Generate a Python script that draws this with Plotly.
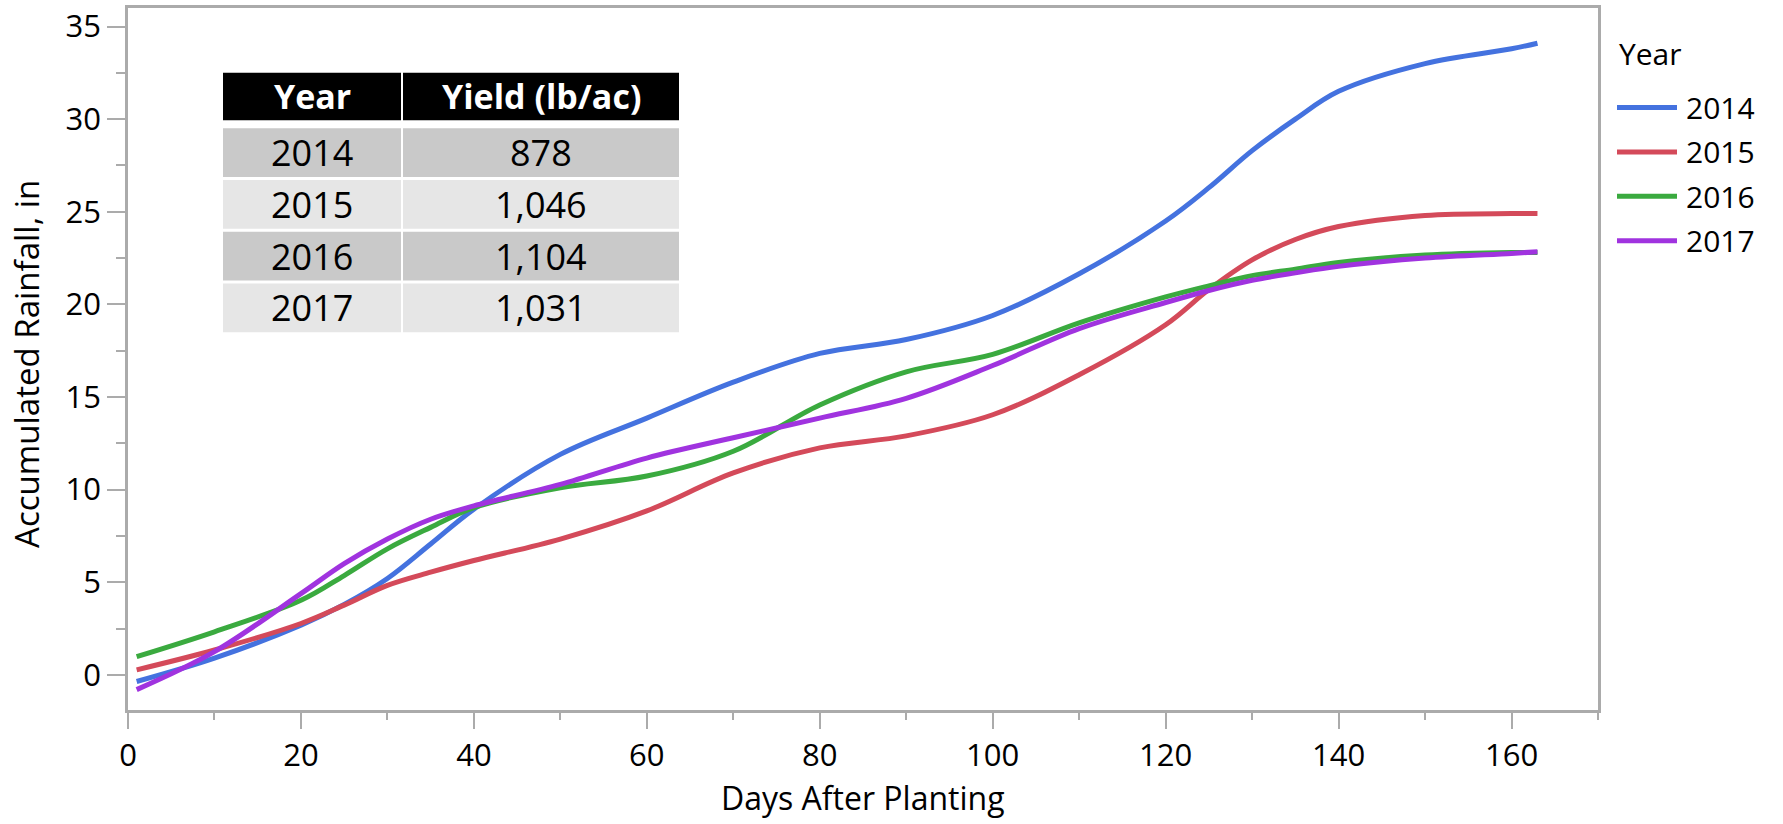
import plotly.graph_objects as go

# ---- data ----
days = [1, 10, 20, 25, 30, 35, 40, 50, 60, 70, 80, 90, 100, 110, 120, 125, 130, 135, 140, 150, 160, 163]
rain_2014 = [-0.36, 0.9, 2.68, 3.8, 5.2, 7.06, 8.94, 11.9, 13.86, 15.8, 17.35, 18.1, 19.4, 21.65,
             24.5, 26.3, 28.3, 30.0, 31.5, 33.0, 33.8, 34.1]
rain_2015 = [0.27, 1.34, 2.77, 3.76, 4.83, 5.54, 6.17, 7.33, 8.85, 10.9, 12.25, 12.9, 14.04, 16.2,
             18.9, 20.8, 22.4, 23.5, 24.2, 24.8, 24.9, 24.9]
rain_2016 = [0.98, 2.32, 4.02, 5.36, 6.8, 7.96, 9.03, 10.1, 10.73, 12.07, 14.57, 16.36, 17.3, 19.0,
             20.4, 21.0, 21.55, 21.9, 22.26, 22.66, 22.8, 22.8]
rain_2017 = [-0.8, 1.25, 4.38, 6.0, 7.33, 8.4, 9.12, 10.28, 11.7, 12.8, 13.86, 14.93, 16.7, 18.69,
             20.1, 20.75, 21.3, 21.7, 22.05, 22.5, 22.75, 22.84]

years = ["2014", "2015", "2016", "2017"]
yield_lb_ac = [878, 1046, 1104, 1031]
series = [rain_2014, rain_2015, rain_2016, rain_2017]
colors = ["#4472DF", "#D44A5A", "#3AAA3F", "#A033DF"]

# ---- page geometry (pixels) ----
W, H = 1783, 824
L, R, T, B = 128, 185, 4, 114
PW = W - L - R
PH = H - T - B
FONT = "Open Sans"
AXIS_GREY = "#ABABAB"


def px(x):
    return (x - L) / PW


def py(y):
    return (H - B - y) / PH


fig = go.Figure()
for yr, vals, col in zip(years, series, colors):
    fig.add_trace(go.Scatter(
        x=days, y=vals, mode="lines", name=yr, showlegend=False,
        line=dict(color=col, width=5, shape="spline", smoothing=1.0),
    ))

shapes = []
annotations = []

# legend: title plus a line sample per year
annotations.append(dict(
    text="Year", xref="paper", yref="paper", x=px(1617), y=py(50),
    xanchor="left", yanchor="middle", showarrow=False,
    font=dict(family=FONT, size=30, color="black"),
))
for i, (yr, col) in enumerate(zip(years, colors)):
    ly = 104 + i * 44.7
    shapes.append(dict(
        type="line", xref="paper", yref="paper",
        x0=px(1617), x1=px(1677), y0=py(ly), y1=py(ly),
        line=dict(color=col, width=5),
    ))
    annotations.append(dict(
        text=yr, xref="paper", yref="paper", x=px(1684), y=py(ly),
        xanchor="left", yanchor="middle", showarrow=False,
        font=dict(family=FONT, size=30, color="black"),
    ))

# yield table
col_x = [(223, 401), (403, 679)]
header = ["Year", "Yield (lb/ac)"]
for (x0, x1), txt in zip(col_x, header):
    shapes.append(dict(
        type="rect", xref="paper", yref="paper", layer="above",
        x0=px(x0), x1=px(x1), y0=py(117), y1=py(69),
        fillcolor="black", line=dict(width=0),
    ))
    annotations.append(dict(
        text=txt, xref="paper", yref="paper", x=px((x0 + x1) / 2), y=py(93),
        xanchor="center", yanchor="middle", showarrow=False,
        font=dict(family=FONT, size=34, color="white", weight="bold"),
    ))

row_fills = ["#C9C9C9", "#E6E6E6"]
for i, (yr, yl) in enumerate(zip(years, yield_lb_ac)):
    top = 125 + i * 52
    bot = top + 49
    cells = [yr, f"{yl:,}"]
    for (x0, x1), txt in zip(col_x, cells):
        shapes.append(dict(
            type="rect", xref="paper", yref="paper", layer="above",
            x0=px(x0), x1=px(x1), y0=py(bot), y1=py(top),
            fillcolor=row_fills[i % 2], line=dict(width=0),
        ))
        annotations.append(dict(
            text=txt, xref="paper", yref="paper", x=px((x0 + x1) / 2),
            y=py((top + bot) / 2),
            xanchor="center", yanchor="middle", showarrow=False,
            font=dict(family=FONT, size=36, color="black"),
        ))

# axis titles
annotations.append(dict(
    text="Days After Planting", xref="paper", yref="paper", x=0.5, y=py(798),
    xanchor="center", yanchor="middle", showarrow=False,
    font=dict(family=FONT, size=32, color="black"),
))
annotations.append(dict(
    text="Accumulated Rainfall, in", xref="paper", yref="paper", x=px(27), y=py(362),
    xanchor="center", yanchor="middle", showarrow=False, textangle=-90,
    font=dict(family=FONT, size=33, color="black"),
))

axis_common = dict(
    showgrid=False, zeroline=False, showline=True, mirror=True,
    linecolor=AXIS_GREY, linewidth=2.5,
    ticks="outside", tickcolor=AXIS_GREY, tickwidth=2,
    tickfont=dict(family=FONT, size=31, color="black"),
)

fig.update_layout(
    width=W, height=H,
    margin=dict(l=L, r=R, t=T, b=B, pad=0),
    paper_bgcolor="white", plot_bgcolor="white",
    xaxis=dict(
        range=[0, 170], tick0=0, dtick=20, ticklen=16,
        minor=dict(dtick=10, tick0=0, ticklen=7, tickwidth=2, tickcolor=AXIS_GREY,
                   ticks="outside", showgrid=False),
        **axis_common,
    ),
    yaxis=dict(
        range=[-1.9, 36], tick0=0, dtick=5, ticklen=18,
        minor=dict(dtick=2.5, tick0=0, ticklen=9, tickwidth=2, tickcolor=AXIS_GREY,
                   ticks="outside", showgrid=False),
        **axis_common,
    ),
    shapes=shapes,
    annotations=annotations,
    showlegend=False,
)

fig.write_html("out.html")
